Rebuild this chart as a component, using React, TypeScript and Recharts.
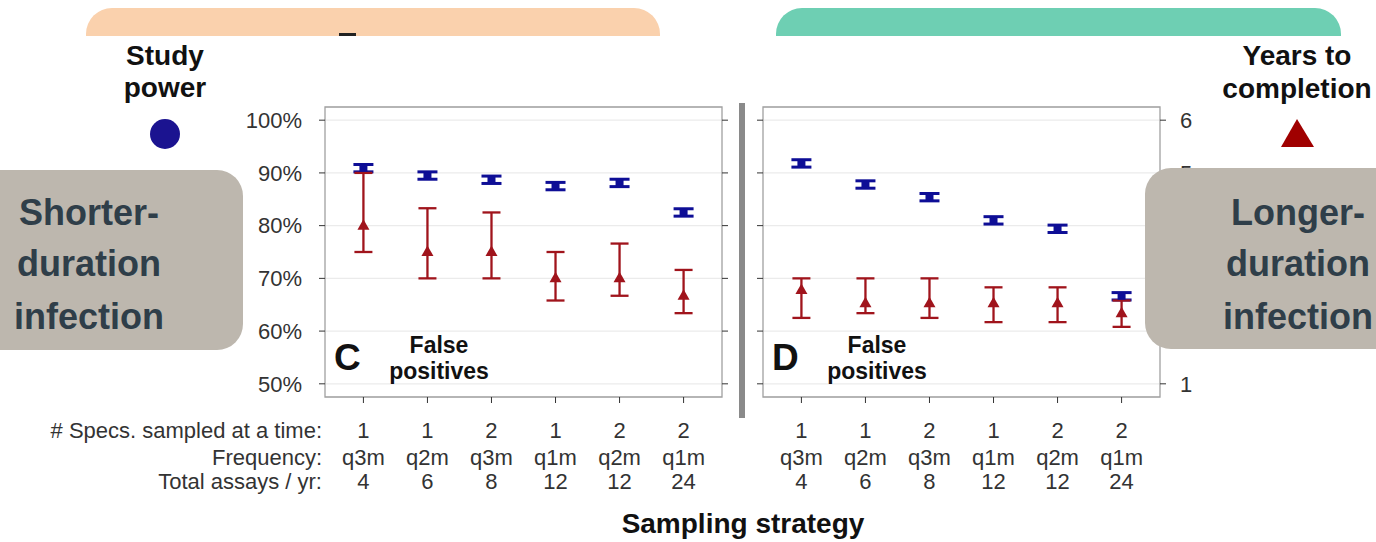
import React from 'react';
import { ComposedChart, Scatter, ErrorBar, XAxis, YAxis, CartesianGrid, ReferenceArea } from 'recharts';

// ---- category labels ----
const specimens = ['1', '1', '2', '1', '2', '2'];
const frequency = ['q3m', 'q2m', 'q3m', 'q1m', 'q2m', 'q1m'];
const assaysPerYear = ['4', '6', '8', '12', '12', '24'];
const rowLabels = ['# Specs. sampled at a time:', 'Frequency:', 'Total assays / yr:'];

// ---- Panel C: shorter-duration infection ----
const powerC = [90.9, 89.5, 88.7, 87.5, 88.1, 82.5];
const powerErrC = [0.7, 0.7, 0.7, 0.7, 0.7, 0.7];
const yearsC = [4.0, 3.5, 3.5, 3.0, 3.0, 2.67];
const yearsLowC = [3.5, 3.0, 3.0, 2.58, 2.67, 2.34];
const yearsHighC = [5.0, 4.33, 4.25, 3.5, 3.66, 3.16];

// ---- Panel D: longer-duration infection ----
const powerD = [91.8, 87.8, 85.4, 81.0, 79.4, 66.6];
const powerErrD = [0.7, 0.7, 0.7, 0.7, 0.7, 0.7];
const yearsD = [2.78, 2.53, 2.53, 2.53, 2.53, 2.34];
const yearsLowD = [2.25, 2.34, 2.25, 2.17, 2.17, 2.08];
const yearsHighD = [3.0, 3.0, 3.0, 2.83, 2.83, 2.58];

// ---- axes ----
const pctTicks = [50, 60, 70, 80, 90, 100];
const yearTicks = [1, 2, 3, 4, 5, 6];
const xTicks = [1, 2, 3, 4, 5, 6];
const pctDomain = [47.5, 102.5];
const yearDomain = [0.75, 6.25];
const xDomain = [0.4, 6.6];

const FONT = '"Liberation Sans", Arial, Helvetica, sans-serif';
const BLUE = '#0E0E96';
const RED = '#A0141C';
const TEXT = '#333333';

function build(power: number[], pErr: number[], years: number[], lo: number[], hi: number[]) {
  return power.map((p, i) => ({
    x: i + 1,
    power: p,
    powerErr: [pErr[i], pErr[i]],
    years: years[i],
    yearsErr: [years[i] - lo[i], hi[i] - years[i]],
  }));
}

const dataC = build(powerC, powerErrC, yearsC, yearsLowC, yearsHighC);
const dataD = build(powerD, powerErrD, yearsD, yearsLowD, yearsHighD);

const rowOffsets = [27, 54, 78];

const CategoryTick = (props: any) => {
  const { x, y, payload } = props;
  const i = Math.round(payload.value) - 1;
  const rows = [specimens[i], frequency[i], assaysPerYear[i]];
  return (
    <g>
      {rows.map((r, k) => (
        <text key={k} x={x} y={y + rowOffsets[k]} textAnchor="middle" dominantBaseline="central"
          fontSize={22} fill={TEXT} fontFamily={FONT}>{r}</text>
      ))}
    </g>
  );
};

const EmptyTick = () => <g />;

const Triangle = (props: any) => {
  const { cx, cy } = props;
  if (cx == null || cy == null) return <g />;
  return <polygon points={`${cx},${cy - 6.5} ${cx - 6},${cy + 4} ${cx + 6},${cy + 4}`} fill={RED} />;
};

const PowerMark = (props: any) => {
  const { cx, cy } = props;
  if (cx == null || cy == null) return <g />;
  return <rect x={cx - 4} y={cy - 3.5} width={8} height={7} fill={BLUE} />;
};

function Panel({ data, side }: { data: any[]; side: 'C' | 'D' }) {
  const isC = side === 'C';
  const width = isC ? 752 : 636;
  const leftW = isC ? 325 : 23;
  const rightW = isC ? 30 : 60;
  const rightMargin = isC ? 0 : 156;
  return (
    <ComposedChart width={width} height={520} data={data}
      margin={{ top: 107, right: rightMargin, bottom: 23, left: 0 }}>
      <CartesianGrid yAxisId="pct" vertical={false} stroke="#EBEBEB" strokeWidth={1.2} />
      <XAxis dataKey="x" type="number" domain={xDomain} ticks={xTicks} interval={0}
        allowDataOverflow axisLine={false} tickLine={{ stroke: TEXT }} tickSize={6} tickMargin={0}
        height={100} tick={<CategoryTick />} />
      <YAxis yAxisId="pct" orientation="left" type="number" domain={pctDomain} ticks={pctTicks}
        interval={0} allowDataOverflow width={leftW} axisLine={false} tickLine={{ stroke: TEXT }}
        tickSize={6} tickMargin={17}
        tick={isC ? { fontSize: 22, fill: TEXT, fontFamily: FONT } : <EmptyTick />}
        tickFormatter={(v: number) => `${v}%`} />
      <YAxis yAxisId="yrs" orientation="right" type="number" domain={yearDomain} ticks={yearTicks}
        interval={0} allowDataOverflow width={rightW} axisLine={false} tickLine={{ stroke: TEXT }}
        tickSize={6} tickMargin={14}
        tick={isC ? <EmptyTick /> : { fontSize: 22, fill: TEXT, fontFamily: FONT }} />
      <ReferenceArea yAxisId="pct" x1={xDomain[0]} x2={xDomain[1]} y1={pctDomain[0]} y2={pctDomain[1]}
        fill="none" stroke="#A0A0A0" strokeWidth={1.3} ifOverflow="visible" />
      <Scatter yAxisId="pct" dataKey="power" shape={<PowerMark />} isAnimationActive={false}>
        <ErrorBar dataKey="powerErr" direction="y" width={10} strokeWidth={3} stroke={BLUE} />
      </Scatter>
      <Scatter yAxisId="yrs" dataKey="years" shape={<Triangle />} isAnimationActive={false}>
        <ErrorBar dataKey="yearsErr" direction="y" width={9} strokeWidth={2.3} stroke={RED} />
      </Scatter>
    </ComposedChart>
  );
}

function topTab(x0: number, x1: number, r: number) {
  return `M ${x0} 36 L ${x0} ${8 + r} A ${r} ${r} 0 0 1 ${x0 + r} 8 L ${x1 - r} 8 A ${r} ${r} 0 0 1 ${x1} ${8 + r} L ${x1} 36 Z`;
}

export default function App() {
  return (
    <div style={{ position: 'absolute', left: 0, top: 0, width: 1376, height: 542, overflow: 'hidden',
      background: '#ffffff', fontFamily: FONT }}>
      <div style={{ position: 'absolute', left: 0, top: 0 }}>
        <Panel data={dataC} side="C" />
      </div>
      <div style={{ position: 'absolute', left: 740, top: 0 }}>
        <Panel data={dataD} side="D" />
      </div>
      <svg width={1376} height={542} style={{ position: 'absolute', left: 0, top: 0, pointerEvents: 'none' }}
        fontFamily={FONT}>
        {/* top tabs */}
        <path d={topTab(86, 660, 26)} fill="#FAD1AD" />
        <path d={topTab(776, 1341, 26)} fill="#6ECFB3" />
        <rect x={339} y={33} width={17} height={3} fill="#222" />

        {/* left legend */}
        <text x={165} y={65} textAnchor="middle" fontSize={28} fontWeight="bold" fill="#111">Study</text>
        <text x={165} y={97} textAnchor="middle" fontSize={28} fontWeight="bold" fill="#111">power</text>
        <circle cx={165} cy={134} r={15} fill="#1B1390" />

        {/* right legend */}
        <text x={1297} y={65} textAnchor="middle" fontSize={28} fontWeight="bold" fill="#111">Years to</text>
        <text x={1297} y={98} textAnchor="middle" fontSize={28} fontWeight="bold" fill="#111">completion</text>
        <polygon points="1297,119 1281,147 1314,147" fill="#A00000" />

        {/* divider */}
        <rect x={739} y={103} width={6} height={315} fill="#8A8A8A" />

        {/* panel letters */}
        <text x={334} y={370} fontSize={37} fontWeight="bold" fill="#111">C</text>
        <text x={439} y={353} textAnchor="middle" fontSize={23} fontWeight="bold" fill="#111">False</text>
        <text x={439} y={379} textAnchor="middle" fontSize={23} fontWeight="bold" fill="#111">positives</text>
        <text x={772} y={370} fontSize={37} fontWeight="bold" fill="#111">D</text>
        <text x={877} y={353} textAnchor="middle" fontSize={23} fontWeight="bold" fill="#111">False</text>
        <text x={877} y={379} textAnchor="middle" fontSize={23} fontWeight="bold" fill="#111">positives</text>

        {/* row labels */}
        {rowLabels.map((t, k) => (
          <text key={k} x={322} y={403 + rowOffsets[k]} textAnchor="end" dominantBaseline="central"
            fontSize={22} fill={TEXT}>{t}</text>
        ))}

        <text x={743} y={533} textAnchor="middle" fontSize={28} fontWeight="bold" fill="#111">Sampling strategy</text>

        {/* side boxes */}
        <rect x={-40} y={170} width={283} height={180} rx={26} fill="#BDB7AE" />
        <text x={89} y={225} textAnchor="middle" fontSize={36} fontWeight="bold" fill="#2F3E49">Shorter-</text>
        <text x={89} y={276} textAnchor="middle" fontSize={36} fontWeight="bold" fill="#2F3E49">duration</text>
        <text x={89} y={329} textAnchor="middle" fontSize={36} fontWeight="bold" fill="#2F3E49">infection</text>

        <rect x={1145} y={168} width={280} height={181} rx={26} fill="#BDB7AE" />
        <text x={1298} y={225} textAnchor="middle" fontSize={36} fontWeight="bold" fill="#2F3E49">Longer-</text>
        <text x={1298} y={276} textAnchor="middle" fontSize={36} fontWeight="bold" fill="#2F3E49">duration</text>
        <text x={1298} y={329} textAnchor="middle" fontSize={36} fontWeight="bold" fill="#2F3E49">infection</text>
      </svg>
    </div>
  );
}
